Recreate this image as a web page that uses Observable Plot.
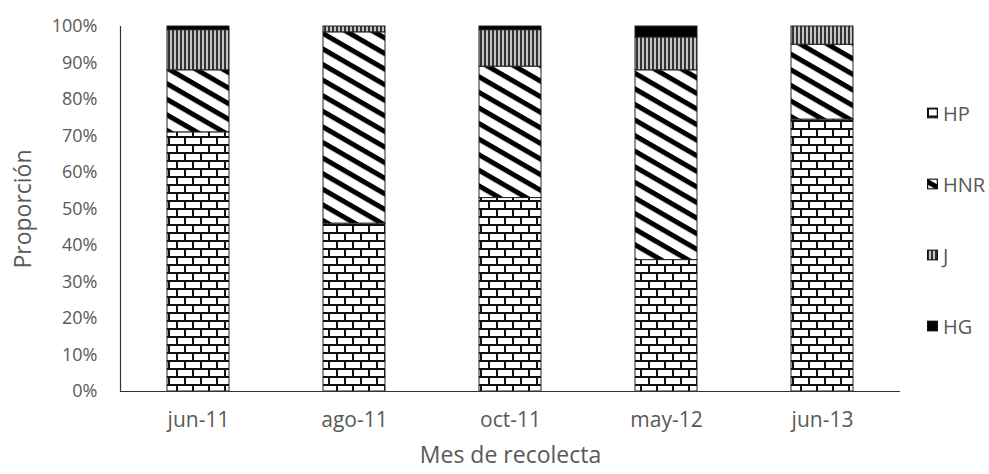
<!DOCTYPE html>
<html>
<head>
<meta charset="utf-8">
<script src="https://cdn.jsdelivr.net/npm/d3@7"></script>
<script src="https://cdn.jsdelivr.net/npm/@observablehq/plot@0.6"></script>
<style>
  body { margin: 0; background: #ffffff; font-family: "Open Sans", sans-serif; }
  #chart { position: relative; width: 989px; height: 474px; }
  #legend { position: absolute; left: 927px; top: 0; }
  .item { position: absolute; left: 0; display: flex; align-items: center; white-space: nowrap;
          font-size: 20px; color: #595959; transform: translateY(-50%); }
  .item svg { margin-right: 5px; display: block; }
</style>
</head>
<body>
<!-- fill patterns shared by the bars and the legend swatches -->
<svg width="0" height="0" style="position:absolute">
  <defs>
    <pattern id="pat-hp" patternUnits="userSpaceOnUse" width="16" height="16">
      <rect width="16" height="16" fill="#ffffff"/>
      <rect x="0" y="0" width="16" height="2" fill="#111"/>
      <rect x="0" y="8" width="16" height="2" fill="#111"/>
      <rect x="0" y="0" width="2" height="8" fill="#111"/>
      <rect x="8" y="8" width="2" height="8" fill="#111"/>
    </pattern>
    <pattern id="pat-hnr" patternUnits="userSpaceOnUse" width="20" height="13.5" patternTransform="rotate(30)">
      <rect width="20" height="13.5" fill="#ffffff"/>
      <rect x="0" y="0" width="20" height="5" fill="#000"/>
    </pattern>
    <pattern id="pat-j" patternUnits="userSpaceOnUse" width="4" height="10">
      <rect width="4" height="10" fill="#c4c4c4"/>
      <rect x="0" y="0" width="2" height="10" fill="#333"/>
    </pattern>
    <pattern id="pat-hg" patternUnits="userSpaceOnUse" width="4" height="4">
      <rect width="4" height="4" fill="#000"/>
    </pattern>
  </defs>
</svg>
<div id="chart"><div id="legend"></div></div>
<script>
// Collection months and the share (%) of each category per month
const months = ["jun-11", "ago-11", "oct-11", "may-12", "jun-13"];
const categories = ["HP", "HNR", "J", "HG"];
const hp  = [71, 46, 53, 36, 74.5];
const hnr = [17, 52.4, 36, 52, 20.5];
const j   = [11, 1.6, 10, 9, 5];
const hg  = [1, 0, 1, 3, 0];
const yTicks = [0, 10, 20, 30, 40, 50, 60, 70, 80, 90, 100];

const fills = ["url(#pat-hp)", "url(#pat-hnr)", "url(#pat-j)", "url(#pat-hg)"];
const valuesBy = {HP: hp, HNR: hnr, J: j, HG: hg};

const rows = months.flatMap((m, i) =>
  categories.map(c => ({month: m, category: c, value: valuesBy[c][i]}))
).filter(d => d.value > 0);

const textColor = "#595959";

const plot = Plot.plot({
  width: 989,
  height: 474,
  marginLeft: 120,
  marginRight: 89,
  marginTop: 26,
  marginBottom: 83,
  style: {fontFamily: "Open Sans, sans-serif", color: textColor, background: "transparent"},
  x: {domain: months, paddingInner: 0.6, paddingOuter: 0.3, label: null},
  y: {domain: [0, 100], label: null},
  color: {domain: categories, range: fills, type: "ordinal"},
  marks: [
    Plot.barY(rows, Plot.stackY({
      x: "month", y: "value", fill: "category", order: categories,
      stroke: "#222", strokeWidth: 1
    })),
    Plot.ruleY([0], {stroke: "#333", strokeWidth: 1.2}),
    Plot.frame({anchor: "left", stroke: "#333", strokeWidth: 1.2}),
    Plot.axisY({ticks: yTicks, tickFormat: d => d + "%", tickSize: 0, tickPadding: 23,
                fontSize: 18, label: null, fill: textColor}),
    Plot.axisX({tickSize: 0, tickPadding: 21, fontSize: 21, label: null, fill: textColor}),
    Plot.text(["Proporción"], {frameAnchor: "left", dx: -97, rotate: -90, textAnchor: "middle",
                               fontSize: 23, fill: textColor}),
    Plot.text(["Mes de recolecta"], {frameAnchor: "bottom", dy: 71,
                                     fontSize: 23, fill: textColor})
  ]
});

document.getElementById("chart").prepend(plot);

// legend on the right: one swatch per category, top to bottom
const legend = d3.select("#legend");
categories.forEach((c, i) => {
  const item = legend.append("div").attr("class", "item").style("top", (113 + i * 71) + "px");
  const sw = item.append("svg").attr("width", 11).attr("height", 11);
  sw.append("rect").attr("x", 0.5).attr("y", 0.5).attr("width", 10).attr("height", 10)
    .attr("fill", fills[i]).attr("stroke", "#111").attr("stroke-width", 1.5);
  item.append("span").text(c);
});
</script>
</body>
</html>
